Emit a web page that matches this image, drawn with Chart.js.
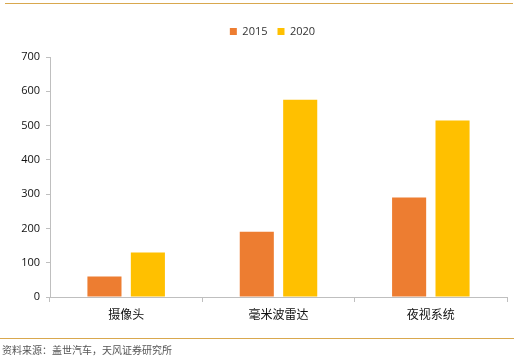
<!DOCTYPE html>
<html><head><meta charset="utf-8">
<script src="https://cdn.jsdelivr.net/npm/chart.js@4"></script>
<style>
html,body{margin:0;padding:0;background:#fff;}
#wrap{position:relative;width:521px;height:359px;overflow:hidden;}
#topline{position:absolute;left:5px;top:3px;width:508px;height:1px;background:#D9A84E;}
#botline{position:absolute;left:0;top:338px;width:514px;height:1px;background:#D9A84E;}
#src{position:absolute;left:2px;top:342px;font:10px "Noto Sans CJK SC",sans-serif;color:#555;}
canvas{position:absolute;left:0;top:0;}
</style></head><body>
<div id="wrap">
<canvas id="c" width="521" height="359"></canvas>
<div id="topline"></div>
<div id="botline"></div>
<div id="src">资料来源：盖世汽车，天风证券研究所</div>
</div>
<script>
const categories = ['摄像头','毫米波雷达','夜视系统'];
const seriesNames = ['2015','2020'];
const values2015 = [60, 190, 290];
const values2020 = [130, 575, 515];
const yTicks = [0,100,200,300,400,500,600,700];

const fontDigits = '"Open Sans","Noto Sans CJK SC",sans-serif';
const legendSpacer = {
  id: 'legendSpacer',
  beforeInit(chart) {
    const origFit = chart.legend.fit;
    chart.legend.fit = function() { origFit.bind(chart.legend)(); this.height += 10; };
  },
  afterLayout(chart) {
    const lg = chart.legend;
    lg.left += 19; lg.right += 19;
  }
};
new Chart(document.getElementById('c'), {
  type: 'bar',
  data: {
    labels: categories,
    datasets: [
      {label: seriesNames[0], data: values2015, backgroundColor: '#ED7D31', categoryPercentage: 0.57, barPercentage: 0.785},
      {label: seriesNames[1], data: values2020, backgroundColor: '#FFC000', categoryPercentage: 0.57, barPercentage: 0.785}
    ]
  },
  plugins: [legendSpacer],
  options: {
    responsive: false,
    animation: false,
    devicePixelRatio: 1,
    layout: {padding: {left: 0, right: 14, top: 16, bottom: 32}},
    plugins: {
      legend: {
        position: 'top',
        labels: {boxWidth: 7, boxHeight: 7, padding: 10, color: '#333', font: {family: fontDigits, size: 11}}
      },
      tooltip: {enabled: false}
    },
    scales: {
      x: {
        afterFit: s => { s.height = 30; },
        border: {color: '#BFBFBF'},
        grid: {offset: true, drawOnChartArea: false, drawTicks: true, tickLength: 5, color: '#BFBFBF'},
        ticks: {color: '#111', font: {family: '"Noto Sans CJK SC",sans-serif', size: 12}, padding: 5}
      },
      y: {
        min: 0, max: 700,
        afterFit: s => { s.width = 50; },
        afterBuildTicks: s => { s.ticks = yTicks.map(v => ({value: v})); },
        border: {color: '#BFBFBF'},
        grid: {drawOnChartArea: false, drawTicks: true, tickLength: 4, color: '#BFBFBF'},
        ticks: {color: '#111', font: {family: fontDigits, size: 11}, padding: 6}
      }
    }
  }
});
</script>
</body></html>
